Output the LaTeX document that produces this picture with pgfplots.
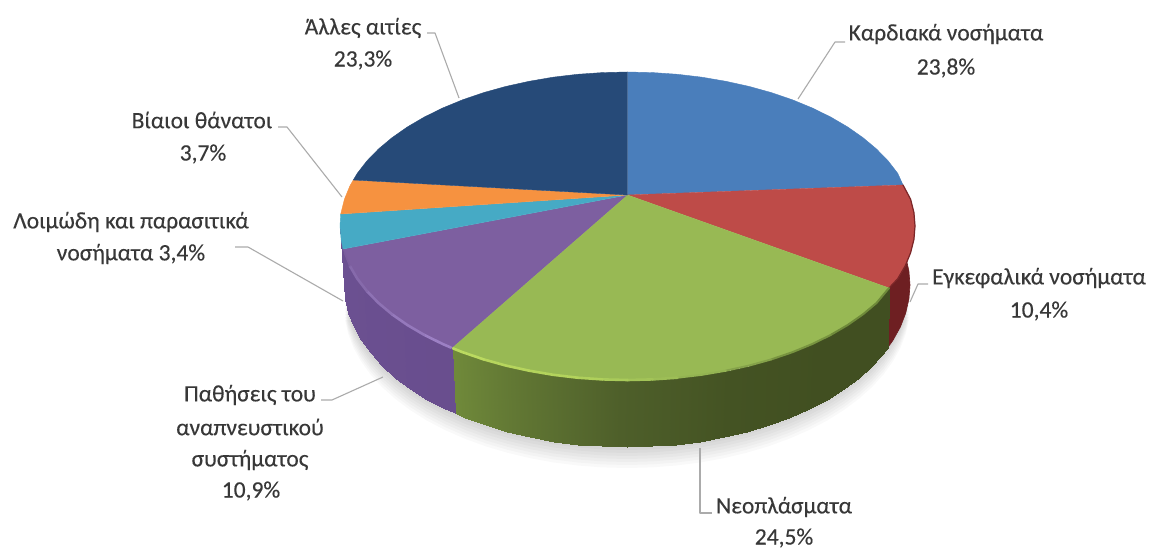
\documentclass[border=0pt]{standalone}
\usepackage{pgfplots}
\usepackage{pgfplotstable}
\usepackage{fontspec}
\pgfplotsset{compat=1.18}
\setmainfont[FakeBold=0.25]{Carlito}

% Slice colours of the top face
\definecolor{sliceblue}{HTML}{4A7EBB}
\definecolor{slicered}{HTML}{BE4B48}
\definecolor{slicegreen}{HTML}{98B954}
\definecolor{slicepurple}{HTML}{7D5FA0}
\definecolor{slicecyan}{HTML}{46AAC5}
\definecolor{sliceorange}{HTML}{F69240}
\definecolor{slicenavy}{HTML}{264A78}
\definecolor{leader}{HTML}{ABABAB}
\definecolor{labeltext}{HTML}{383838}

% Wall and rim tones
\newcommand\hx[1]{\definecolor{HTML#1}{HTML}{#1}}
\hx{6E1F22}\hx{7A2628}
\hx{6F8A3A}\hx{789440}\hx{85A24A}\hx{93B352}\hx{9DBE56}\hx{A3C458}\hx{A9CB5A}\hx{AFD05B}\hx{B3D35C}\hx{B6D55D}
\hx{BBDA60}\hx{9C80C4}\hx{9579BC}\hx{8E72B4}\hx{866AAB}\hx{7A5D9C}

% Lower outline of the pie, used for its soft ground shadow
\pgfplotstableread{
x y
908.9 299.1
905.7 313.1
900.4 326.9
892.9 340.4
883.5 353.5
872.1 366
858.8 377.9
843.8 389.1
827.1 399.6
808.9 409.1
789.3 417.7
768.5 425.3
746.6 431.8
723.8 437.2
700.2 441.5
676.1 444.5
651.7 446.4
627 447
602.3 446.4
577.9 444.5
553.8 441.5
530.2 437.2
507.4 431.8
485.5 425.3
464.7 417.7
445.1 409.1
426.9 399.6
410.2 389.1
395.2 377.9
381.9 366
370.5 353.5
361.1 340.4
353.6 326.9
348.3 313.1
345.1 299.1
}\pieedge

% Green wall as four-corner patches; c is the position around the rim
\pgfplotstableread{
x y c
889 288 25
876.5 303 30
872.1 366 30
887.5 348 25
876.5 303 30
863 314.3 35
858.8 377.9 35
872.1 366 30
863 314.3 35
847.7 325 40
843.8 389.1 40
858.8 377.9 35
847.7 325 40
830.8 334.9 45
827.1 399.6 45
843.8 389.1 40
830.8 334.9 45
812.3 344 50
808.9 409.1 50
827.1 399.6 45
812.3 344 50
792.4 352.2 55
789.3 417.7 55
808.9 409.1 50
792.4 352.2 55
771.3 359.4 60
768.5 425.3 60
789.3 417.7 55
771.3 359.4 60
749 365.6 65
746.6 431.8 65
768.5 425.3 60
749 365.6 65
725.8 370.7 70
723.8 437.2 70
746.6 431.8 65
725.8 370.7 70
701.9 374.8 75
700.2 441.5 75
723.8 437.2 70
701.9 374.8 75
677.4 377.7 80
676.1 444.5 80
700.2 441.5 75
677.4 377.7 80
652.6 379.4 85
651.7 446.4 85
676.1 444.5 80
652.6 379.4 85
627.5 380 90
627 447 90
651.7 446.4 85
627.5 380 90
602.4 379.4 95
602.3 446.4 95
627 447 90
602.4 379.4 95
577.6 377.7 100
577.9 444.5 100
602.3 446.4 95
577.6 377.7 100
553.1 374.8 105
553.8 441.5 105
577.9 444.5 100
553.1 374.8 105
529.2 370.7 110
530.2 437.2 110
553.8 441.5 105
529.2 370.7 110
506 365.6 115
507.4 431.8 115
530.2 437.2 110
506 365.6 115
483.7 359.4 120
485.5 425.3 120
507.4 431.8 115
483.7 359.4 120
462.6 352.2 125
464.7 417.7 125
485.5 425.3 120
462.6 352.2 125
452 348 127.6
455 413.4 127.6
464.7 417.7 125
}\greenwall

% Purple wall, built the same way
\pgfplotstableread{
x y c
452 348 127.6
442.7 344 130
445.1 409.1 130
455 413.4 127.6
442.7 344 130
424.2 334.9 135
426.9 399.6 135
445.1 409.1 130
424.2 334.9 135
407.3 325 140
410.2 389.1 140
426.9 399.6 135
407.3 325 140
392 314.3 145
395.2 377.9 145
410.2 389.1 140
392 314.3 145
378.5 303 150
381.9 366 150
395.2 377.9 145
378.5 303 150
366.9 291.1 155
370.5 353.5 155
381.9 366 150
366.9 291.1 155
357.3 278.7 160
361.1 340.4 160
370.5 353.5 155
357.3 278.7 160
349.8 265.9 165
353.6 326.9 165
361.1 340.4 160
349.8 265.9 165
344.4 252.7 170
348.3 313.1 170
353.6 326.9 165
344.4 252.7 170
341.1 239.4 175
345.1 299.1 175
348.3 313.1 170
341.1 239.4 175
340 226 180
344 285 180
345.1 299.1 175
}\purplewall

\pgfplotsset{
  colormap={wallgreen}{
    rgb255=(65,79,33) rgb255=(65,79,33) rgb255=(68,83,35) rgb255=(78,95,42)
    rgb255=(98,120,52) rgb255=(120,148,62) rgb255=(134,165,68) rgb255=(146,178,74)},
  colormap={wallpurple}{
    rgb255=(100,73,137) rgb255=(103,76,140) rgb255=(108,81,146)},
  side/.style={fill=#1, draw=#1, line width=0.3pt, line join=round},
  wall/.style={patch, patch type=rectangle, shader=interp, point meta=explicit, colormap name=#1},
  face/.style={fill=#1, draw=#1, line width=0.2pt, line join=round},
  rim/.style={draw=#1, line width=1.3pt, line cap=round, line join=round},
  lead/.style={draw=leader, line width=0.55pt, line join=round},
  halo/.style={fill=black, fill opacity=0.024, draw=none},
}
\tikzset{lab/.style={font=\fontsize{11.75}{13}\selectfont, text=labeltext, inner sep=0pt, anchor=center}}

\begin{document}
\begin{tikzpicture}
\begin{axis}[
  scale only axis, width=574.5pt, height=274.5pt,
  xmin=0, xmax=1149, ymin=0, ymax=549, y dir=reverse,
  hide axis, clip=true,
]
\addplot[fill=white, draw=none] coordinates {(0,0)(1149,0)(1149,549)(0,549)};

% Ground shadow
\addplot[halo] table[x=x, y expr=\thisrow{y}+3] {\pieedge};
\addplot[halo] table[x=x, y expr=\thisrow{y}+6] {\pieedge};
\addplot[halo] table[x=x, y expr=\thisrow{y}+9] {\pieedge};
\addplot[halo] table[x=x, y expr=\thisrow{y}+12] {\pieedge};
\addplot[halo] table[x=x, y expr=\thisrow{y}+15] {\pieedge};
\addplot[halo] table[x=x, y expr=\thisrow{y}+18] {\pieedge};
\addplot[halo] table[x=x, y expr=\thisrow{y}+21] {\pieedge};

% Side walls
\addplot[side=HTML6E1F22] coordinates {(889,288)(887.5,348)(892.9,340.4)(900.4,326.9)(905.7,313.1)(908.9,299.1)(910,285)(908.9,270.9)(905.7,256.9)(900.4,243.1)(903,185)};
\addplot[wall=wallgreen] table[x=x, y=y, meta=c] {\greenwall};
\addplot[wall=wallpurple] table[x=x, y=y, meta=c] {\purplewall};

% Top face slices
\addplot[face=sliceblue] coordinates {(627.5,195)(627.5,72)(652.6,72.6)(677.4,74.3)(701.9,77.2)(725.8,81.3)(749,86.4)(771.3,92.6)(792.4,99.8)(812.3,108)(830.8,117.1)(847.7,127)(863,137.7)(876.5,149)(888.1,160.9)(897.7,173.3)(903,185)};
\addplot[face=slicered] coordinates {(627.5,195)(903,185)(910.6,199.3)(913.9,212.6)(915,226)(913.9,239.4)(910.6,252.7)(905.2,265.9)(897.7,278.7)(889,288)};
\addplot[face=slicepurple] coordinates {(627.5,195)(452,348)(442.7,344)(424.2,334.9)(407.3,325)(392,314.3)(378.5,303)(366.9,291.1)(357.3,278.7)(349.8,265.9)(344.4,252.7)(343,249)};
\addplot[face=slicegreen] coordinates {(627.5,195)(889,288)(876.5,303)(863,314.3)(847.7,325)(830.8,334.9)(812.3,344)(792.4,352.2)(771.3,359.4)(749,365.6)(725.8,370.7)(701.9,374.8)(677.4,377.7)(652.6,379.4)(627.5,380)(602.4,379.4)(577.6,377.7)(553.1,374.8)(529.2,370.7)(506,365.6)(483.7,359.4)(462.6,352.2)(452,348)};
\addplot[face=slicecyan] coordinates {(627.5,195)(343,249)(341.1,239.4)(340,226)(340.7,214)};
\addplot[face=sliceorange] coordinates {(627.5,195)(340.7,214)(344.4,199.3)(349.8,186.1)(353.3,180)};
\addplot[face=slicenavy] coordinates {(627.5,195)(353.3,180)(357.3,173.3)(366.9,160.9)(378.5,149)(392,137.7)(407.3,127)(424.2,117.1)(442.7,108)(462.6,99.8)(483.7,92.6)(506,86.4)(529.2,81.3)(553.1,77.2)(577.6,74.3)(602.4,72.6)(627.5,72)};

% Rim: dark edge on the red slice
\addplot[rim=HTML7A2628, line width=0.6pt] coordinates {(903,185)(910.6,199.3)(913.9,212.6)(915,226)(913.9,239.4)(910.6,252.7)(905.2,265.9)(897.7,278.7)(889,288)};
% Rim: soft edge on the right of the green slice, brightening to the left
\addplot[rim=HTML6F8A3A, line width=1pt] coordinates {(889,288)(876.5,303)(863,314.3)(847.7,325)(830.8,334.9)};
\addplot[rim=HTML789440, line width=1pt] coordinates {(830.8,334.9)(812.3,344)(792.4,352.2)(771.3,359.4)};
\addplot[rim=HTML85A24A, line width=1pt] coordinates {(771.3,359.4)(749,365.6)(725.8,370.7)};
\addplot[rim=HTML93B352, line width=1pt] coordinates {(725.8,370.7)(701.9,374.8)(677.4,377.7)};
% Rim: highlight fading along the green slice
\addplot[rim=HTML9DBE56] coordinates {(677.4,377.7)(652.6,379.4)};
\addplot[rim=HTMLA3C458] coordinates {(652.6,379.4)(627.5,380)};
\addplot[rim=HTMLA9CB5A] coordinates {(627.5,380)(602.4,379.4)};
\addplot[rim=HTMLAFD05B] coordinates {(602.4,379.4)(577.6,377.7)};
\addplot[rim=HTMLB3D35C] coordinates {(577.6,377.7)(553.1,374.8)(529.2,370.7)};
\addplot[rim=HTMLB6D55D] coordinates {(529.2,370.7)(506,365.6)(483.7,359.4)};
\addplot[rim=HTMLBBDA60] coordinates {(483.7,359.4)(462.6,352.2)(453,348.4)};
% Rim: highlight fading along the purple slice
\addplot[rim=HTML9C80C4] coordinates {(451,347.6)(442.7,344)(424.2,334.9)};
\addplot[rim=HTML9579BC] coordinates {(424.2,334.9)(407.3,325)(392,314.3)};
\addplot[rim=HTML8E72B4] coordinates {(392,314.3)(378.5,303)(366.9,291.1)};
\addplot[rim=HTML866AAB] coordinates {(366.9,291.1)(357.3,278.7)(349.8,265.9)};
\addplot[rim=HTML7A5D9C, line width=0.8pt] coordinates {(349.8,265.9)(344.4,252.7)};

% Leader lines
\addplot[lead] coordinates {(845,42)(835,42)(798,99)};
\addplot[lead] coordinates {(427,33)(435,33)(459,98)};
\addplot[lead] coordinates {(278,127)(287,127)(342,197)};
\addplot[lead] coordinates {(235,247)(248,247)(343,301)};
\addplot[lead] coordinates {(321,400)(332,400)(383,377)};
\addplot[lead] coordinates {(700,448)(700,513)(712,513)};
\addplot[lead] coordinates {(928,284)(918,284)(910,302)};

% Labels
\node[lab] at (axis cs:946,34) {Καρδιακά νοσήματα};
\node[lab] at (axis cs:946,68) {23,8\%};
\node[lab] at (axis cs:363,28) {Άλλες αιτίες};
\node[lab] at (axis cs:363,60) {23,3\%};
\node[lab] at (axis cs:202,120) {Βίαιοι θάνατοι};
\node[lab] at (axis cs:203,154) {3,7\%};
\node[lab] at (axis cs:131,222) {Λοιμώδη και παρασιτικά};
\node[lab] at (axis cs:131,254) {νοσήματα 3,4\%};
\node[lab] at (axis cs:250,395) {Παθήσεις του};
\node[lab] at (axis cs:250,427) {αναπνευστικού};
\node[lab] at (axis cs:250,460) {συστήματος};
\node[lab] at (axis cs:251,491) {10,9\%};
\node[lab] at (axis cs:784,507) {Νεοπλάσματα};
\node[lab] at (axis cs:784,538) {24,5\%};
\node[lab] at (axis cs:1039,278) {Εγκεφαλικά νοσήματα};
\node[lab] at (axis cs:1039,311) {10,4\%};
\end{axis}
\end{tikzpicture}
\end{document}
